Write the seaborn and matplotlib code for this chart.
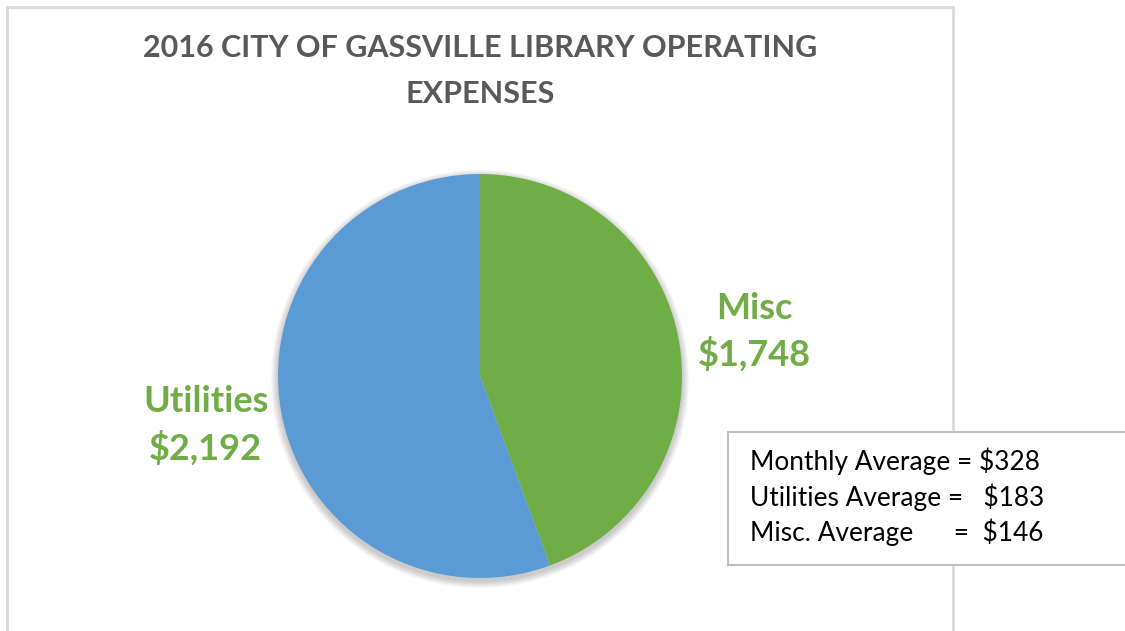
import matplotlib
matplotlib.use("Agg")
import matplotlib.pyplot as plt
import seaborn as sns
from matplotlib.patches import Rectangle, Circle

# data
categories = ["Misc", "Utilities"]
amounts = [1748, 2192]
colors = ["#70AD47", "#5B9BD5"]
avg_lines = ["Monthly Average = $328", "Utilities Average =   $183", "Misc. Average      =  $146"]
title = "2016 CITY OF GASSVILLE LIBRARY OPERATING\nEXPENSES"

sns.set_theme(style="white")
plt.rcParams['font.family'] = ['Lato', 'DejaVu Sans']

fig = plt.figure(figsize=(11.25, 6.31), dpi=100)
ax = fig.add_axes([0, 0, 1, 1])

pie_center = (480, 255)
pie_r = 202

# soft drop shadow under the pie
for i in range(6):
    ax.add_patch(Circle((pie_center[0], pie_center[1] - 3), pie_r + 1 + i * 1.2,
                        facecolor="black", edgecolor="none", alpha=0.035, zorder=0))

labels = [f"{c}\n${v:,}" for c, v in zip(categories, amounts)]
wedges, texts = ax.pie(amounts, colors=colors, startangle=90, counterclock=False,
                       center=pie_center, radius=pie_r, labels=labels, labeldistance=1.38,
                       textprops=dict(color="#70AD47", fontsize=26, fontweight="bold",
                                      linespacing=1.42),
                       wedgeprops=dict(linewidth=0, zorder=2))
for t in texts:
    t.set_ha("center")
    t.set_va("center")
# Misc label sits a little lower in the original
x0, y0 = texts[0].get_position()
texts[0].set_position((x0, y0 - 5))

# pie() resets the limits, so set them afterwards
ax.set_xlim(0, 1125)
ax.set_ylim(0, 631)
ax.axis("off")

# chart area border
ax.add_patch(Rectangle((7, -10), 946, 634, fill=False, edgecolor="#D9D9D9", lw=2))

ax.text(480, 560, title, ha="center", va="center", fontsize=22, fontweight="bold",
        color="#595959", linespacing=1.75)

# averages box
ax.add_patch(Rectangle((728, 66), 420, 133, facecolor="white", edgecolor="#BFBFBF", lw=1.5, zorder=5))
ax.text(750, 134, "\n".join(avg_lines), ha="left", va="center", fontsize=18.9,
        color="black", linespacing=1.36, zorder=6)

fig.savefig("out.png", dpi=100)
